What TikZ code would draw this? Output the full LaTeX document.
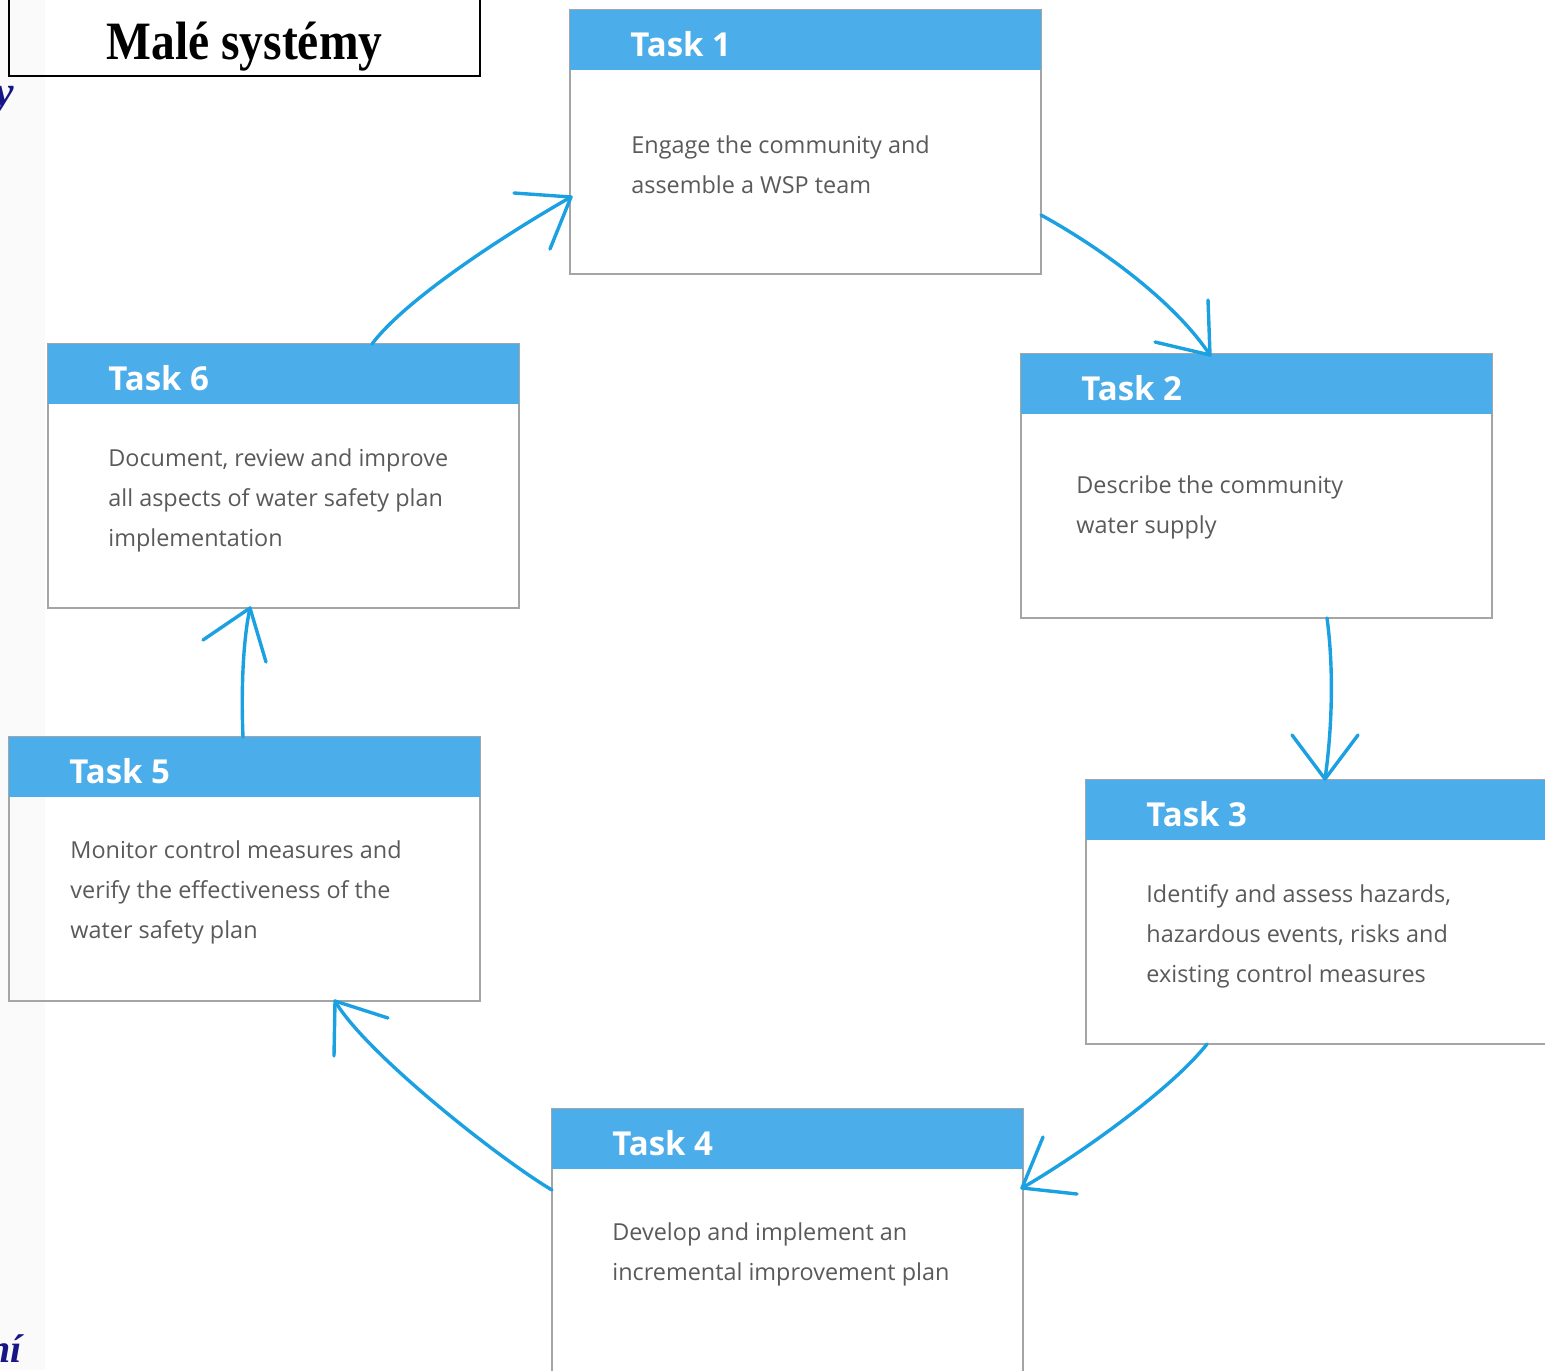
\documentclass[tikz,border=0pt]{standalone}
\usepackage{fontspec}
\setmainfont{Open Sans}
\newfontfamily\tnr{Liberation Serif}
\usetikzlibrary{calc}
\definecolor{hdr}{RGB}{75,173,233}
\definecolor{arrc}{RGB}{27,161,226}
\definecolor{bord}{RGB}{165,165,165}
\definecolor{txt}{RGB}{90,90,90}
\definecolor{navy}{RGB}{22,22,135}
\begin{document}
\begin{tikzpicture}[x=0.5pt,y=-0.5pt,
  box/.style={draw=bord,line width=0.8pt,minimum width=235.5pt,minimum height=132pt,inner sep=0pt,outer sep=0pt,anchor=north west},
  hdrbox/.style={fill=hdr,minimum width=235.5pt,minimum height=30pt,inner sep=0pt,outer sep=0pt,anchor=north west},
  ttl/.style={text=white,font=\fontsize{16.5}{19}\selectfont\bfseries,anchor=base west,inner sep=0pt},
  body/.style={text=txt,font=\fontsize{11.7}{20}\selectfont,anchor=base west,inner sep=0pt,align=left},
  conn/.style={draw=arrc,line width=1.7pt,line cap=round,line join=round},
  frag/.style={text=navy,inner sep=0pt,anchor=base east},
]
\useasboundingbox (0,0) rectangle (1545,1370);
\clip (0,0) rectangle (1545,1370);
\fill[white] (0,0) rectangle (1545,1370);
\fill[black!2] (0,0) rectangle (45,1370);

% title
\node[draw=black,line width=1pt,anchor=north west,minimum width=235.5pt,minimum height=38.5pt,inner sep=0pt,outer sep=0pt] (tbox) at (9,-1) {};
\node[inner sep=0pt,anchor=base,font=\tnr\bfseries\fontsize{27}{30}\selectfont,xscale=0.88] (title) at ($(tbox.north)+(0,61)$) {Malé systémy};

% clipped fragments at the left edge
\node[frag,font=\tnr\bfseries\itshape\fontsize{22}{24}\selectfont] (frag1) at (14,106) {y};
\node[frag,font=\tnr\bfseries\itshape\fontsize{20}{22}\selectfont] (frag2) at (22,1362) {ní};

% boxes
\node[box] (t1) at (570,10) {};
\node[box] (t2) at (1021,354) {};
\node[box] (t3) at (1086,780) {};
\node[box] (t4) at (552,1109) {};
\node[box] (t5) at (9,737) {};
\node[box] (t6) at (48,344) {};

\node[hdrbox] (h1) at (t1.north west) {};
\node[hdrbox] (h2) at (t2.north west) {};
\node[hdrbox] (h3) at (t3.north west) {};
\node[hdrbox] (h4) at (t4.north west) {};
\node[hdrbox] (h5) at (t5.north west) {};
\node[hdrbox] (h6) at (t6.north west) {};

\node[ttl] (l1) at ($(t1.north west)+(60,46.5)$) {Task 1};
\node[ttl] (l2) at ($(t2.north west)+(60,46.5)$) {Task 2};
\node[ttl] (l3) at ($(t3.north west)+(60,46.5)$) {Task 3};
\node[ttl] (l4) at ($(t4.north west)+(60,46.5)$) {Task 4};
\node[ttl] (l5) at ($(t5.north west)+(60,46.5)$) {Task 5};
\node[ttl] (l6) at ($(t6.north west)+(60,46.5)$) {Task 6};

% base anchor of a multi-line node sits on its last line
\node[body] (b1) at ($(t1.north west)+(61,183)$) {Engage the community and\\assemble a WSP team};
\node[body] (b2) at ($(t2.north west)+(55,179)$) {Describe the community\\water supply};
\node[body] (b3) at ($(t3.north west)+(60,202)$) {Identify and assess hazards,\\hazardous events, risks and\\existing control measures};
\node[body] (b4) at ($(t4.north west)+(60,171)$) {Develop and implement an\\incremental improvement plan};
\node[body] (b5) at ($(t5.north west)+(61,201)$) {Monitor control measures and\\verify the effectiveness of the\\water safety plan};
\node[body] (b6) at ($(t6.north west)+(60,202)$) {Document, review and improve\\all aspects of water safety plan\\implementation};

% arrow end points
\coordinate (s1) at ($(t1.north east)+(0,205)$);
\coordinate (e1) at ($(t2.north west)+(189,1)$);
\coordinate (s2) at ($(t2.south west)+(306,0)$);
\coordinate (e2) at ($(t3.north west)+(239,-1)$);
\coordinate (s3) at ($(t3.south west)+(121,0)$);
\coordinate (e3) at ($(t4.north east)+(-1,79)$);
\coordinate (s4) at ($(t4.north west)+(0,81)$);
\coordinate (e4) at ($(t5.south west)+(326,0)$);
\coordinate (s5) at ($(t5.north west)+(234,0)$);
\coordinate (e5) at ($(t6.south west)+(202,0)$);
\coordinate (s6) at ($(t6.north west)+(324,0)$);
\coordinate (e6) at ($(t1.north west)+(1,187)$);

% connectors
\draw[conn] (s1) .. controls +(60,33) and +(-36,-54) .. (e1);
\draw[conn] ($(e1)+(-2,-55)$) -- (e1) -- ($(e1)+(-55,-13)$);
\draw[conn] (s2) .. controls +(7,52) and +(7,-49) .. (e2);
\draw[conn] ($(e2)+(-33,-44)$) -- (e2) -- ($(e2)+(33,-44)$);
\draw[conn] (s3) .. controls +(-37,47) and +(52,-30) .. (e3);
\draw[conn] ($(e3)+(21,-51)$) -- (e3) -- ($(e3)+(55,6)$);
\draw[conn] (s4) .. controls +(-51,-30) and +(30,52) .. (e4);
\draw[conn] ($(e4)+(-1,55)$) -- (e4) -- ($(e4)+(53,17)$);
\draw[conn] (s5) .. controls +(-2,-47) and +(-7,32) .. (e5);
\draw[conn] ($(e5)+(-47,32)$) -- (e5) -- ($(e5)+(16,54)$);
\draw[conn] (s6) .. controls +(36,-48) and +(-53,30) .. (e6);
\draw[conn] ($(e6)+(-57,-4)$) -- (e6) -- ($(e6)+(-21,52)$);
\end{tikzpicture}
\end{document}
